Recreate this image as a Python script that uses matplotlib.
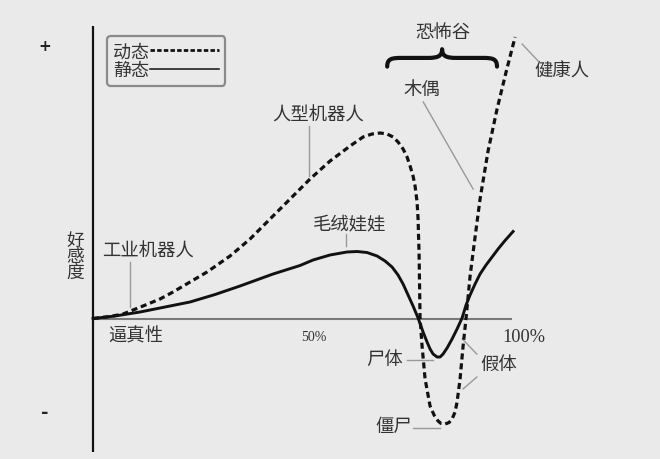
import matplotlib
matplotlib.use("Agg")
import matplotlib.pyplot as plt
from matplotlib.lines import Line2D
from matplotlib.path import Path
from matplotlib.patches import PathPatch

plt.rcParams['font.family'] = ['Noto Sans CJK SC', 'DejaVu Sans']

# ---- data (realism %, affinity) ----
dyn_x = [0, 4.06, 7.16, 11.93, 15.99, 19.09, 23.15, 27.21, 32.70, 37.47, 42.24, 47.02,
         51.79, 56.56, 61.34, 64.44, 66.59, 68.50, 70.17, 71.60, 72.79, 73.99, 74.94,
         75.66, 76.37, 76.85, 77.33, 77.57, 77.68, 77.80, 77.92, 78.04, 78.52, 79.24,
         80.43, 81.38, 82.34, 83.05, 84.01, 84.96, 85.68, 86.40, 86.87, 87.59, 88.31,
         89.02, 89.98, 91.17, 92.36, 94.27, 96.42, 98.57, 100.72]
dyn_y = [0, 0.74, 1.65, 4.60, 7.17, 9.74, 13.42, 17.10, 22.98, 29.23, 36.58, 43.93,
         51.29, 57.90, 63.42, 66.73, 67.83, 68.20, 67.83, 66.73, 64.89, 62.32, 59.38,
         56.07, 52.39, 48.71, 42.83, 36.58, 30.33, 24.45, 12.68, 0.18, -10.11, -22.24,
         -32.17, -35.48, -37.68, -38.60, -38.79, -38.24, -36.95, -34.38, -30.70, -22.24, -10.11,
         0.18, 15.63, 29.96, 43.93, 61.58, 77.02, 90.62, 103.49]

sta_x = [0, 5.25, 11.22, 17.18, 23.15, 29.12, 35.08, 42.96, 49.40, 52.51, 56.56, 60.62,
         63.01, 65.39, 67.78, 69.69, 71.36, 72.79, 73.99, 75.18, 76.37, 77.57, 78.76,
         79.71, 80.43, 81.15, 82.10, 82.82, 83.53, 84.49, 85.68, 86.87, 88.07, 89.02,
         89.98, 91.17, 92.36, 93.79, 95.23, 96.66, 98.33, 100.24]
sta_y = [0, 0.92, 2.39, 4.23, 6.07, 8.82, 11.95, 16.36, 19.49, 21.51, 23.35, 24.45,
         24.63, 24.26, 22.98, 21.14, 18.93, 15.99, 12.68, 8.64, 4.60, 0.18, -4.96,
         -8.64, -11.21, -13.05, -14.15, -14.15, -13.05, -10.85, -7.54, -3.86, 0.18, 4.96,
         8.64, 12.68, 16.36, 19.67, 22.61, 25.55, 28.68, 31.99]

series_labels = ['动态', '静态']

# annotation labels: (text, x, y)
point_labels = ['人型机器人', '毛绒娃娃', '工业机器人', '木偶', '健康人', '恐怖谷']
point_x = [53.7, 61.3, 13.2, 78.5, 111.8, 83.5]
point_y = [74.8, 34.7, 24.8, 84.4, 91.0, 105.3]

BG = '#eaeaea'
TXT = '#333333'
LEAD = '#999999'
FS = 13.2

fig = plt.figure(figsize=(6.6, 4.6), dpi=100, facecolor=BG)
ax = fig.add_axes([0, 0, 1, 1])
ax.set_facecolor(BG)
ax.set_xlim(-22.2, 135.3)
ax.set_ylim(-51.65, 117.46)
ax.axis('off')

# axes
ax.plot([0, 0], [-49.1, 107.5], color='#111111', lw=1.6, solid_capstyle='butt', zorder=2)
ax.plot([0, 100], [0, 0], color='#7a7a7a', lw=1.5, solid_capstyle='butt', zorder=1)

# curves
ax.plot(sta_x, sta_y, color='#111111', lw=2.1, solid_joinstyle='round', zorder=4)
ax.plot(dyn_x, dyn_y, color='#111111', lw=2.3, linestyle=(0, (1.9, 1.2)),
        dash_joinstyle='round', zorder=5)

# legend
h_dyn = Line2D([], [], color='#111111', lw=2.0, linestyle=(0, (1.6, 0.8)))
h_sta = Line2D([], [], color='#111111', lw=1.1)
leg = ax.legend([h_dyn, h_sta], series_labels, loc='upper left',
                bbox_to_anchor=(107 / 660, 1 - 37 / 460), bbox_transform=fig.transFigure,
                markerfirst=False, fontsize=13, handlelength=3.8, handletextpad=0.05,
                labelspacing=0.05, borderpad=0.35, borderaxespad=0, frameon=True,
                fancybox=True, framealpha=1, facecolor=BG, edgecolor='#8a8a8a')
leg.get_frame().set_linewidth(1.6)
for t in leg.get_texts():
    t.set_color(TXT)

# plus/minus
ax.text(-11.5, 100.2, '+', ha='center', va='center', fontsize=11, fontweight='bold',
        color='#222222', family='DejaVu Sans')
ax.text(-11.5, -34.4, '-', ha='center', va='center', fontsize=13, fontweight='bold',
        color='#222222', family='DejaVu Sans')

# y label stacked
for i, ch in enumerate('好感度'):
    ax.text(-4.3, 29.0 - i * 6.1, ch, ha='center', va='center', fontsize=12.8, color=TXT)

# x label and percent labels
ax.text(3.6, -6.1, '逼真性', ha='left', va='center', fontsize=FS, color=TXT)
ax.text(52.6, -6.6, '50%', ha='center', va='center', fontsize=10, color=TXT,
        family='Liberation Serif')
ax.text(102.8, -6.6, '100%', ha='center', va='center', fontsize=13.2, color=TXT,
        family='Liberation Serif')

for s, x, y in zip(point_labels, point_x, point_y):
    ax.text(x, y, s, ha='center', va='center', fontsize=FS, color=TXT)

ax.text(74.0, -15.0, '尸体', ha='right', va='center', fontsize=FS, color=TXT)
ax.text(76.1, -39.6, '僵尸', ha='right', va='center', fontsize=FS, color=TXT)
ax.text(96.7, -16.8, '假体', ha='center', va='center', fontsize=FS, color=TXT)

# leader lines
leaders = [
    ((51.6, 70.8), (51.6, 52.4)),
    ((60.4, 31.1), (60.4, 26.7)),
    ((8.8, 20.8), (8.8, 4.2)),
    ((78.8, 79.6), (90.7, 47.6)),
    ((102.4, 100.9), (106.2, 94.7)),
    ((74.9, -15.4), (81.1, -15.4)),
    ((76.4, -40.3), (82.8, -40.3)),
    ((91.6, -13.1), (88.1, -7.5)),
    ((91.6, -21.5), (88.3, -25.9)),
]
for (x0, y0), (x1, y1) in leaders:
    ax.plot([x0, x1], [y0, y1], color=LEAD, lw=1.0, zorder=3)

# curly brace over the valley
x0, x1, yb, h, a = 70.2, 96.4, 92.6, 6.4, 3.4
xm = (x0 + x1) / 2
verts = [
    (x0, yb), (x0, yb + h * 0.45), (x0 + a * 0.3, yb + h / 2), (x0 + a, yb + h / 2),
    (xm - a, yb + h / 2),
    (xm - a * 0.3, yb + h / 2), (xm, yb + h * 0.6), (xm, yb + h),
    (xm, yb + h * 0.6), (xm + a * 0.3, yb + h / 2), (xm + a, yb + h / 2),
    (x1 - a, yb + h / 2),
    (x1 - a * 0.3, yb + h / 2), (x1, yb + h * 0.45), (x1, yb),
]
codes = [Path.MOVETO, Path.CURVE4, Path.CURVE4, Path.CURVE4,
         Path.LINETO,
         Path.CURVE4, Path.CURVE4, Path.CURVE4,
         Path.CURVE4, Path.CURVE4, Path.CURVE4,
         Path.LINETO,
         Path.CURVE4, Path.CURVE4, Path.CURVE4]
ax.add_patch(PathPatch(Path(verts, codes), facecolor='none', edgecolor='#111111',
                       lw=3.0, capstyle='round', joinstyle='round'))

fig.savefig('out.png', dpi=100, facecolor=BG)
